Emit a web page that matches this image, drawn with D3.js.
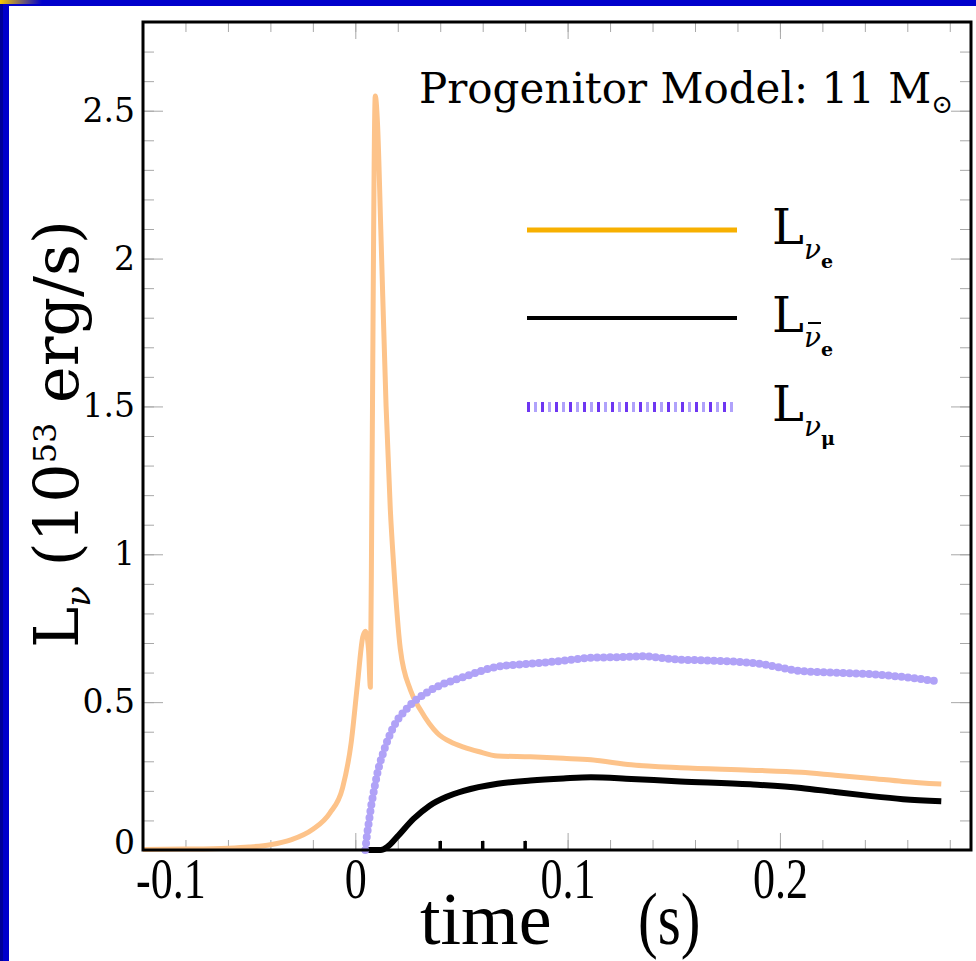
<!DOCTYPE html>
<html>
<head>
<meta charset="utf-8">
<script src="https://cdn.jsdelivr.net/npm/d3@7"></script>
<style>
  body { margin: 0; background: #0000cc; }
  svg { display: block; }
</style>
</head>
<body>
<div id="chart"></div>
<script>
// luminosity curves, time in s, L in 10^53 erg/s
var nueT = [-0.1, -0.08, -0.06, -0.05, -0.04, -0.03, -0.02, -0.012, -0.006, -0.002, 0.001, 0.0035, 0.0048, 0.0062, 0.0071, 0.0078, 0.0094, 0.0105, 0.012, 0.0145, 0.0165, 0.018, 0.0212, 0.026, 0.031, 0.0387, 0.045, 0.051, 0.058, 0.067, 0.0825, 0.098, 0.111, 0.13, 0.153, 0.186, 0.21, 0.226, 0.242, 0.258, 0.276];
var nueL = [0.002, 0.003, 0.006, 0.01, 0.018, 0.035, 0.07, 0.125, 0.21, 0.36, 0.56, 0.72, 0.74, 0.68, 0.55, 1.2, 2.55, 2.45, 2.1, 1.5, 1.15, 0.97, 0.68, 0.54, 0.47, 0.395, 0.365, 0.348, 0.333, 0.318, 0.315, 0.31, 0.305, 0.288, 0.278, 0.27, 0.263, 0.253, 0.243, 0.232, 0.223];

var anueT = [0.005, 0.012, 0.015, 0.0198, 0.0274, 0.035, 0.043, 0.051, 0.067, 0.0825, 0.098, 0.111, 0.13, 0.153, 0.186, 0.21, 0.226, 0.242, 0.258, 0.276];
var anueL = [0, 0, 0.01, 0.045, 0.105, 0.15, 0.18, 0.2, 0.224, 0.235, 0.242, 0.246, 0.24, 0.232, 0.222, 0.21, 0.196, 0.183, 0.172, 0.165];

var numuT = [0.0047, 0.0055, 0.0065, 0.0075, 0.0085, 0.0104, 0.0132, 0.0179, 0.0245, 0.0354, 0.051, 0.067, 0.0825, 0.098, 0.111, 0.124, 0.135, 0.15, 0.17, 0.19, 0.21, 0.226, 0.242, 0.258, 0.274];
var numuL = [0, 0.05, 0.1, 0.15, 0.19, 0.26, 0.33, 0.415, 0.48, 0.54, 0.585, 0.62, 0.63, 0.64, 0.65, 0.652, 0.655, 0.645, 0.64, 0.63, 0.605, 0.6, 0.595, 0.585, 0.571];

var xTicks = [-0.1, 0, 0.1, 0.2];
var xLabels = ["-0.1", "0", "0.1", "0.2"];
var yTicks = [0, 0.5, 1, 1.5, 2, 2.5];
var yLabels = ["0", "0.5", "1", "1.5", "2", "2.5"];

var W = 976, H = 961;
var margin = {top: 22, right: 5, bottom: 111, left: 143},
    width = W - margin.left - margin.right,
    height = H - margin.top - margin.bottom;

var svg = d3.select("#chart").append("svg")
    .attr("width", W)
    .attr("height", H);

// slide frame: blue border, gradient strip top-left, white page
var defs = svg.append("defs");
var grad = defs.append("linearGradient").attr("id", "strip");
grad.append("stop").attr("offset", "0%").attr("stop-color", "#f8c800");
grad.append("stop").attr("offset", "100%").attr("stop-color", "#0000cc");
svg.append("rect").attr("width", W).attr("height", H).attr("fill", "#0000cc");
svg.append("rect").attr("width", 3).attr("height", H).attr("fill", "#000099");
svg.append("rect").attr("width", 42).attr("height", 4).attr("fill", "url(#strip)");
svg.append("rect").attr("x", 9).attr("y", 6).attr("width", W - 9).attr("height", H - 6).attr("fill", "#fff");

var g = svg.append("g")
    .attr("transform", "translate(" + margin.left + "," + margin.top + ")");

var x = d3.scaleLinear().domain([-0.1, 0.29]).range([0, width]);
var y = d3.scaleLinear().domain([0, 2.8]).range([height, 0]);

var minorX = d3.range(-0.1, 0.2801, 0.02);
var minorY = d3.range(0, 2.801, 0.1);

function styleTicks(sel) {
  sel.select(".domain").remove();
  sel.selectAll(".tick line").attr("stroke", "#a8a8a8").attr("stroke-width", 1);
}

// minor ticks, all four sides, pointing in
g.append("g").attr("transform", "translate(0," + height + ")")
  .call(d3.axisBottom(x).tickValues(minorX).tickSize(-10).tickFormat(""))
  .call(styleTicks);
g.append("g")
  .call(d3.axisTop(x).tickValues(minorX).tickSize(-10).tickFormat(""))
  .call(styleTicks);
g.append("g")
  .call(d3.axisLeft(y).tickValues(minorY).tickSize(-11).tickFormat(""))
  .call(styleTicks);
g.append("g").attr("transform", "translate(" + width + ",0)")
  .call(d3.axisRight(y).tickValues(minorY).tickSize(-11).tickFormat(""))
  .call(styleTicks);

// major ticks
var xb = g.append("g").attr("transform", "translate(0," + height + ")")
  .call(d3.axisBottom(x).tickValues(xTicks).tickSize(-17).tickPadding(7)
    .tickFormat(function(d, i) { return xLabels[i]; }))
  .call(styleTicks);
xb.selectAll("text")
  .attr("fill", "#000")
  .attr("font-family", "Liberation Serif, serif")
  .attr("font-size", 58)
  .attr("dy", "0.7em")
  .attr("transform", "scale(0.76,1)");
xb.selectAll("text").filter(function(d) { return d === -0.1; }).attr("dx", 36);

g.append("g")
  .call(d3.axisTop(x).tickValues(xTicks).tickSize(-17).tickFormat(""))
  .call(styleTicks);

var yl = g.append("g")
  .call(d3.axisLeft(y).tickValues(yTicks).tickSize(-20).tickPadding(8)
    .tickFormat(function(d, i) { return yLabels[i]; }))
  .call(styleTicks);
yl.selectAll("text")
  .attr("fill", "#000")
  .attr("font-family", "DejaVu Serif, serif")
  .attr("font-size", 33);
yl.selectAll("text").filter(function(d) { return d === 0; }).attr("dy", "0.1em").attr("x", -8);

g.append("g").attr("transform", "translate(" + width + ",0)")
  .call(d3.axisRight(y).tickValues(yTicks).tickSize(-20).tickFormat(""))
  .call(styleTicks);

// the few heavy marks on the bottom axis near 0.04 - 0.08
g.append("g").selectAll("line")
  .data([0.04, 0.06, 0.08])
  .enter().append("line")
    .attr("x1", function(d) { return x(d); })
    .attr("x2", function(d) { return x(d); })
    .attr("y1", height)
    .attr("y2", height - 9)
    .attr("stroke", "#000")
    .attr("stroke-width", 3.5);

// curves
var line = d3.line()
  .curve(d3.curveMonotoneX)
  .x(function(d) { return x(d[0]); })
  .y(function(d) { return y(d[1]); });

g.append("path")
  .datum(d3.zip(nueT, nueL))
  .attr("d", line)
  .attr("fill", "none")
  .attr("stroke", "#fdc38a")
  .attr("stroke-width", 5)
  .attr("stroke-linejoin", "round");

g.append("path")
  .datum(d3.zip(anueT, anueL))
  .attr("d", line)
  .attr("fill", "none")
  .attr("stroke", "#000")
  .attr("stroke-width", 6)
  .attr("stroke-linejoin", "round");

g.append("path")
  .datum(d3.zip(numuT, numuL))
  .attr("d", line)
  .attr("fill", "none")
  .attr("stroke", "#b0a2f7")
  .attr("stroke-width", 8)
  .attr("stroke-linecap", "round")
  .attr("stroke-dasharray", "0 6.5");

// frame
g.append("rect")
  .attr("width", width)
  .attr("height", height)
  .attr("fill", "none")
  .attr("stroke", "#000")
  .attr("stroke-width", 3);

// title
var title = g.append("text")
  .attr("x", 276)
  .attr("y", 81)
  .attr("font-family", "DejaVu Serif, serif")
  .attr("font-size", 42);
title.append("tspan").text("Progenitor Model: 11 M");
title.append("tspan").attr("dy", 10).attr("font-size", 26).text("\u2299");

// legend
var legY = [208, 296, 385];
var lx0 = 384, lx1 = 594;
g.append("line").attr("x1", lx0).attr("x2", lx1).attr("y1", legY[0]).attr("y2", legY[0])
  .attr("stroke", "#f7b000").attr("stroke-width", 5);
g.append("line").attr("x1", lx0).attr("x2", lx1).attr("y1", legY[1]).attr("y2", legY[1])
  .attr("stroke", "#000").attr("stroke-width", 4);
g.append("line").attr("x1", lx0).attr("x2", lx1).attr("y1", legY[2]).attr("y2", legY[2])
  .attr("stroke", "#b0a2fb").attr("stroke-width", 10).attr("stroke-dasharray", "3 4");
g.append("line").attr("x1", lx0).attr("x2", lx1).attr("y1", legY[2]).attr("y2", legY[2])
  .attr("stroke", "#6e36f2").attr("stroke-width", 10).attr("stroke-dasharray", "3 11");

var subs = [["\u03bd", "e"], ["\u03bd", "e"], ["\u03bd", "\u03bc"]];
subs.forEach(function(s, i) {
  var t = g.append("text")
    .attr("x", 629)
    .attr("y", legY[i] + 14)
    .attr("font-family", "DejaVu Serif, serif")
    .attr("font-size", 48);
  t.append("tspan").text("L");
  t.append("tspan").attr("dy", 15).attr("font-size", 28).attr("font-style", "italic").text(s[0]);
  t.append("tspan").attr("dy", 9).attr("font-size", 19).attr("font-weight", "bold").text(s[1]);
  if (i === 1) {
    g.append("line").attr("x1", 665).attr("x2", 678)
      .attr("y1", legY[i] + 5).attr("y2", legY[i] + 5)
      .attr("stroke", "#000").attr("stroke-width", 2);
  }
});

// axis titles
g.append("text")
  .attr("x", 277)
  .attr("y", 922)
  .attr("font-family", "Liberation Serif, serif")
  .attr("font-size", 74)
  .text("time");
g.append("text")
  .attr("transform", "translate(495,922) scale(0.8,1)")
  .attr("font-family", "Liberation Serif, serif")
  .attr("font-size", 74)
  .text("(s)");

var ylab = g.append("text")
  .attr("transform", "translate(-65," + (height / 2 - 2) + ") rotate(-90)")
  .attr("text-anchor", "middle")
  .attr("font-family", "DejaVu Serif, serif")
  .attr("font-size", 62);
ylab.append("tspan").text("L");
ylab.append("tspan").attr("dy", 12).attr("font-size", 34).attr("font-style", "italic").text("\u03bd");
ylab.append("tspan").attr("dy", -12).text(" (10");
ylab.append("tspan").attr("dy", -22).attr("font-size", 32).text("53");
ylab.append("tspan").attr("dy", 22).text(" erg/s)");
</script>
</body>
</html>
